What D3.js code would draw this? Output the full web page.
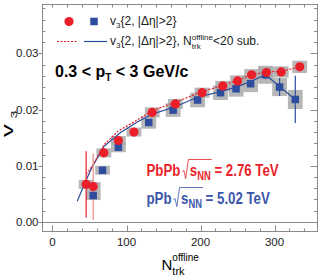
<!DOCTYPE html>
<html>
<head>
<meta charset="utf-8">
<script src="https://cdn.jsdelivr.net/npm/d3@7"></script>
<style>
  html, body { margin: 0; padding: 0; background: #fff; }
  text { white-space: pre; }
</style>
</head>
<body>
<svg id="chart"></svg>
<script>
// PbPb v3{2,|deta|>2}
var pbN = [45.5, 55, 69.4, 89, 110, 134.7, 166, 202, 230, 250, 269, 289, 309, 334];
var pbV = [0.0067, 0.0063, 0.0123, 0.0145, 0.0160, 0.0195, 0.0210, 0.0230, 0.0242, 0.0251, 0.0262, 0.0266, 0.0267, 0.0276];
var pbErr = [0.0059, 0.0059, 0.0008, 0.0006, 0.0005, 0.0004, 0.0003, 0.0003, 0.0003, 0.0003, 0.0003, 0.0003, 0.0003, 0.0004];
var pbSys = [0.0008, 0.0008, 0.0008, 0.0008, 0.0008, 0.0009, 0.0009, 0.0009, 0.0009, 0.0010, 0.0010, 0.0010, 0.0010, 0.0011];

// pPb v3{2,|deta|>2}
var ppN = [55, 67.6, 89, 130, 163, 196, 227, 248, 267.6, 287.8, 306.8, 328];
var ppV = [0.0047, 0.0092, 0.0133, 0.0177, 0.0199, 0.0217, 0.0230, 0.0237, 0.0246, 0.0262, 0.0240, 0.0218];
var ppErr = [0.0005, 0.0004, 0.0003, 0.0003, 0.0003, 0.0003, 0.0004, 0.0005, 0.0006, 0.0008, 0.0016, 0.0042];
var ppSys = [0.0008, 0.0008, 0.0009, 0.0011, 0.0012, 0.0013, 0.0013, 0.0014, 0.0015, 0.0016, 0.0016, 0.0017];

// Ntrk<20 subtracted curves
var pbSubN = [45.5, 55, 69.4, 89, 110, 134.7, 166, 202, 230, 250, 269, 289, 309, 334];
var pbSubV = [0.0085, 0.0102, 0.0137, 0.0162, 0.0178, 0.0198, 0.0213, 0.0232, 0.0243, 0.0252, 0.0262, 0.0267, 0.0268, 0.0276];
var ppSubN = [33.4, 44.6, 53.6, 69.3, 92, 114.5, 134.7, 166, 195.5, 227, 248, 267.6, 287.8, 306.8, 328];
var ppSubV = [0.0037, 0.0072, 0.0098, 0.0134, 0.0159, 0.0178, 0.0192, 0.0205, 0.0222, 0.0232, 0.0240, 0.0250, 0.0262, 0.0241, 0.0218];

var xTicks = [0, 100, 200, 300];
var yTicks = [0, 0.01, 0.02, 0.03];
var yTickLabels = ["0.00", "0.01", "0.02", "0.03"];

var W = 324, H = 278;
var FONT = "'Liberation Sans', Arial, Helvetica, sans-serif";
var RED = "#ea1f29", BLUE = "#2e4d9e", BLUE_TXT = "#3a56a8", FRAME = "#8a8a8a";

var svg = d3.select("#chart").attr("width", W).attr("height", H)
    .style("font-family", FONT);

var pLeft = 42.5, pRight = 317.5, pTop = 4.5, pBottom = 231.5;

var x = d3.scaleLinear().domain([-13.5, 358]).range([pLeft, pRight]);
var y = d3.scaleLinear().domain([-0.0017, 0.0387]).range([pBottom, pTop]);

// frame
svg.append("rect").attr("x", pLeft).attr("y", pTop)
    .attr("width", pRight - pLeft).attr("height", pBottom - pTop)
    .attr("fill", "none").attr("stroke", FRAME).attr("stroke-width", 1);

// zero line
svg.append("line").attr("x1", pLeft).attr("x2", pRight)
    .attr("y1", Math.round(y(0)) + 0.5).attr("y2", Math.round(y(0)) + 0.5)
    .attr("stroke", FRAME).attr("stroke-width", 1);

// x ticks (bottom and top)
var xMinor = d3.range(0, 358, 20);
xMinor.forEach(function(d) {
    var len = (d % 100 === 0) ? 6 : 3;
    var px = Math.round(x(d)) + 0.5;
    svg.append("line").attr("x1", px).attr("x2", px)
        .attr("y1", pBottom).attr("y2", pBottom - len)
        .attr("stroke", FRAME);
    svg.append("line").attr("x1", px).attr("x2", px)
        .attr("y1", pTop).attr("y2", pTop + 3)
        .attr("stroke", FRAME);
});

// y ticks (left and right)
var yMinor = d3.range(0, 0.0386, 0.002);
yMinor.forEach(function(d, i) {
    var major = (i % 5 === 0);
    var py = Math.round(y(d)) + 0.5;
    if (major) {
        svg.append("line").attr("x1", pLeft - 4).attr("x2", pLeft)
            .attr("y1", py).attr("y2", py).attr("stroke", FRAME);
    } else {
        svg.append("line").attr("x1", pLeft).attr("x2", pLeft + 3)
            .attr("y1", py).attr("y2", py).attr("stroke", FRAME);
    }
    svg.append("line").attr("x1", pRight).attr("x2", pRight - (major ? 7 : 3.5))
        .attr("y1", py).attr("y2", py).attr("stroke", FRAME);
});

// tick labels
svg.selectAll(".xl").data(xTicks).enter().append("text")
    .attr("class", "xl")
    .attr("x", function(d) { return x(d); })
    .attr("y", 245.5)
    .attr("text-anchor", "middle")
    .attr("font-size", 11.5)
    .attr("fill", "#222")
    .text(function(d) { return d; });

svg.selectAll(".yl").data(yTicks).enter().append("text")
    .attr("class", "yl")
    .attr("x", 38.5)
    .attr("y", function(d) { return y(d) + 4; })
    .attr("text-anchor", "end")
    .attr("font-size", 11.5)
    .attr("fill", "#222")
    .text(function(d, i) { return yTickLabels[i]; });

// rich text helper: parts drawn one after another
function rich(parent, x0, y0, parts, o) {
    var sx = o.sx || 1;
    var g = parent.append("g")
        .attr("transform", "translate(" + x0 + "," + y0 + ") scale(" + sx + ",1)");
    var cur = 0, last = 0, ext = [];
    parts.forEach(function(p) {
        if (p.gap) {
            ext.push([x0 + cur * sx, x0 + (cur + p.gap / sx) * sx]);
            cur += p.gap / sx;
            return;
        }
        var start = p.back ? last : cur;
        var t = g.append("text")
            .attr("x", start).attr("y", p.dy || 0)
            .attr("font-size", p.size)
            .attr("font-weight", o.weight || "normal")
            .attr("fill", o.color)
            .text(p.s);
        var w = t.node().getComputedTextLength();
        ext.push([x0 + start * sx, x0 + (start + w) * sx]);
        last = start;
        cur = Math.max(cur, start + w);
    });
    return ext;
}

// systematic boxes
var boxW = 10;
function sysBoxes(N, V, S) {
    svg.append("g").selectAll("rect").data(N).enter().append("rect")
        .attr("x", function(d) { return x(d - boxW); })
        .attr("width", function(d) { return x(d + boxW) - x(d - boxW); })
        .attr("y", function(d, i) { return y(V[i] + S[i]); })
        .attr("height", function(d, i) { return y(V[i] - S[i]) - y(V[i] + S[i]); })
        .attr("fill", "#aaaaaa").attr("opacity", 0.85);
}
sysBoxes(ppN, ppV, ppSys);
sysBoxes(pbN, pbV, pbSys);

// curves
var line = d3.line()
    .x(function(d) { return x(d[0]); })
    .y(function(d) { return y(d[1]); });

svg.append("path")
    .datum(ppSubN.map(function(d, i) { return [d, ppSubV[i]]; }))
    .attr("d", line).attr("fill", "none")
    .attr("stroke", BLUE).attr("stroke-width", 1.2);

svg.append("path")
    .datum(pbSubN.map(function(d, i) { return [d, pbSubV[i]]; }))
    .attr("d", line).attr("fill", "none")
    .attr("stroke", RED).attr("stroke-width", 1.2)
    .attr("stroke-dasharray", "2,1.5");

// error bars
svg.append("g").selectAll("line").data(ppN).enter().append("line")
    .attr("x1", function(d) { return x(d); })
    .attr("x2", function(d) { return x(d); })
    .attr("y1", function(d, i) { return y(ppV[i] + ppErr[i]); })
    .attr("y2", function(d, i) { return y(ppV[i] - ppErr[i]); })
    .attr("stroke", BLUE).attr("stroke-width", 1.2);

svg.append("g").selectAll("line").data(pbN).enter().append("line")
    .attr("x1", function(d) { return x(d); })
    .attr("x2", function(d) { return x(d); })
    .attr("y1", function(d, i) { return y(pbV[i] + pbErr[i]); })
    .attr("y2", function(d, i) { return y(pbV[i] - pbErr[i]); })
    .attr("stroke", function(d, i) { return i === 1 ? "#f08a8a" : RED; })
    .attr("stroke-width", 1.2);

// markers
var sq = 7.5;
svg.append("g").selectAll("rect").data(ppN).enter().append("rect")
    .attr("x", function(d) { return x(d) - sq / 2; })
    .attr("y", function(d, i) { return y(ppV[i]) - sq / 2; })
    .attr("width", sq).attr("height", sq)
    .attr("fill", BLUE);

svg.append("g").selectAll("circle").data(pbN).enter().append("circle")
    .attr("cx", function(d) { return x(d); })
    .attr("cy", function(d, i) { return y(pbV[i]); })
    .attr("r", 4.6)
    .attr("fill", RED);

// legend
svg.append("circle").attr("cx", 69).attr("cy", 21.5).attr("r", 4.6).attr("fill", RED);
svg.append("rect").attr("x", 94 - sq / 2).attr("y", 21.5 - sq / 2)
    .attr("width", sq).attr("height", sq).attr("fill", BLUE);
svg.append("line").attr("x1", 57).attr("x2", 78).attr("y1", 41.5).attr("y2", 41.5)
    .attr("stroke", RED).attr("stroke-width", 1.2).attr("stroke-dasharray", "2,1.5");
svg.append("line").attr("x1", 84).attr("x2", 107).attr("y1", 41.5).attr("y2", 41.5)
    .attr("stroke", BLUE).attr("stroke-width", 1.2);

rich(svg, 110, 25, [
    { s: "v", size: 12 }, { s: "3", size: 8, dy: 3 }, { s: "{2, |Δη|>2}", size: 12 }
], { color: "#222" });
rich(svg, 110, 45, [
    { s: "v", size: 12 }, { s: "3", size: 8, dy: 3 }, { s: "{2, |Δη|>2}, N", size: 12 },
    { s: "offline", size: 8, dy: -5 }, { s: "trk", size: 8, dy: 3.5, back: true },
    { s: "<20 sub.", size: 12 }
], { color: "#222" });

// kinematic range
rich(svg, 55, 76.7, [
    { s: "0.3 < p", size: 16 }, { s: "T", size: 10, dy: 4.5 }, { s: " < 3 GeV/c", size: 16 }
], { color: "#000", weight: "bold" });

// system labels with sqrt(sNN)
function sqrtLabel(x0, b, color, sys, val) {
    var ext = rich(svg, x0, b, [
        { s: sys, size: 17 }, { gap: 9.5 }, { s: "s", size: 17 },
        { s: "NN", size: 12, dy: 4 }, { s: " = " + val, size: 17 }
    ], { color: color, weight: "bold", sx: 0.78 });
    var r0 = ext[1][0] + 2, e = ext[3][1] + 1;
    svg.append("path")
        .attr("d", "M" + r0 + "," + (b - 4) + " L" + (r0 + 1.5) + "," + (b - 5) +
            " L" + (r0 + 3.3) + "," + (b + 3) + " L" + (r0 + 6) + "," + (b - 16) +
            " L" + e + "," + (b - 16))
        .attr("fill", "none").attr("stroke", color).attr("stroke-width", 0.8);
}
sqrtLabel(146.5, 175.5, RED, "PbPb", "2.76 TeV");
sqrtLabel(146.5, 203.5, BLUE_TXT, "pPb", "5.02 TeV");

// axis titles
var yt = svg.append("g").attr("transform", "translate(12.5,137) rotate(-90) scale(1.5,1)");
yt.append("text").attr("x", 0).attr("y", 0).attr("font-size", 17).attr("fill", "#000").text("v");
yt.append("text").attr("x", 12.5).attr("y", 4.5).attr("font-size", 9).attr("fill", "#000").text("3");

rich(svg, 161.5, 270, [
    { s: "N", size: 15 }, { s: "offline", size: 10, dy: -9 }, { s: "trk", size: 11, dy: 5, back: true }
], { color: "#000" });
</script>
</body>
</html>
